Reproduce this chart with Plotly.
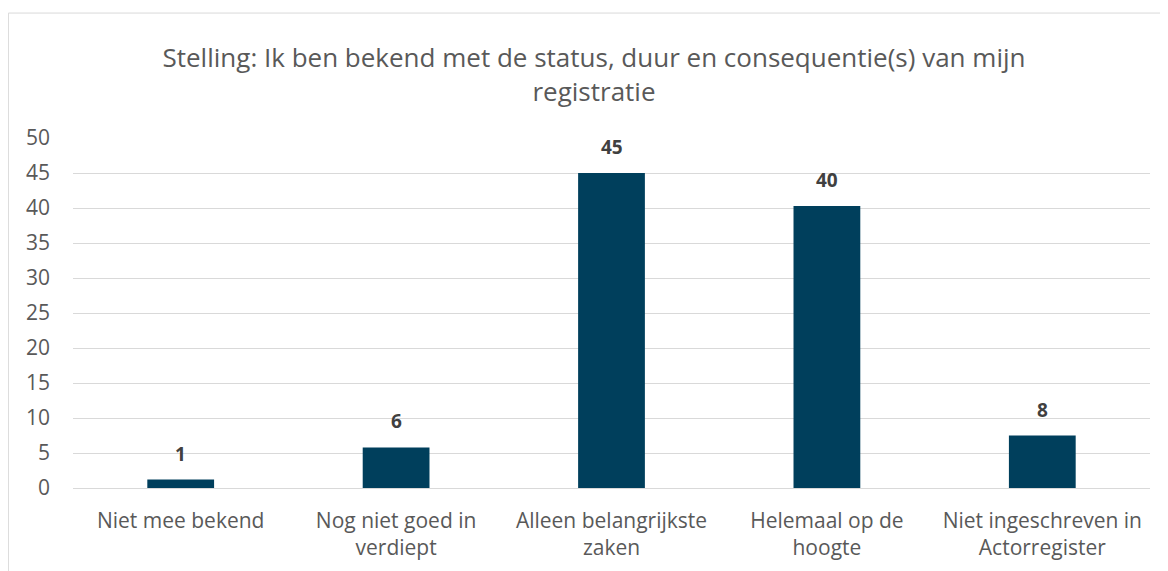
import plotly.graph_objects as go

categories = [
    "Niet mee bekend",
    "Nog niet goed in<br>verdiept",
    "Alleen belangrijkste<br>zaken",
    "Helemaal op de<br>hoogte",
    "Niet ingeschreven in<br>Actorregister",
]
values = [1.2, 5.8, 45.0, 40.3, 7.5]
labels = ["1", "6", "45", "40", "8"]
y_ticks = [0, 5, 10, 15, 20, 25, 30, 35, 40, 45, 50]

font_family = "Open Sans"
bar_color = "#003F5C"

fig = go.Figure()

fig.add_trace(
    go.Bar(
        x=categories,
        y=values,
        marker=dict(color=bar_color, line=dict(width=0)),
        hoverinfo="skip",
    )
)

# data labels sit a little higher than plotly's own "outside" text
for cat, val, lab in zip(categories, values, labels):
    fig.add_annotation(
        x=cat,
        y=val,
        text=f"<b>{lab}</b>",
        showarrow=False,
        yanchor="bottom",
        yshift=11,
        font=dict(family=font_family, size=19, color="#404040"),
    )

fig.update_layout(
    width=1168,
    height=571,
    margin=dict(l=65, r=26, t=130, b=91),
    paper_bgcolor="white",
    plot_bgcolor="white",
    bargap=0.69,
    showlegend=False,
    title=dict(
        text="Stelling: Ik ben bekend met de status, duur en consequentie(s) van mijn<br>registratie",
        x=0.5017,
        xanchor="center",
        y=0.896,
        yanchor="middle",
        font=dict(family=font_family, size=26, color="#595959"),
    ),
    font=dict(family=font_family, size=21, color="#595959"),
)

fig.update_xaxes(
    showgrid=False,
    showline=False,
    ticks="",
    ticklabelstandoff=18,
    tickfont=dict(size=21, color="#595959"),
)

fig.update_yaxes(
    range=[0, 50],
    tickvals=y_ticks,
    showgrid=True,
    gridcolor="#D9D9D9",
    gridwidth=1.3,
    zeroline=True,
    zerolinecolor="#D9D9D9",
    zerolinewidth=1.3,
    showline=False,
    ticks="",
    ticklabelstandoff=22,
    tickfont=dict(size=21, color="#595959"),
)

# chart area border (partly outside the captured region)
fig.add_shape(
    type="rect",
    xref="paper",
    yref="paper",
    x0=-0.0600,
    x1=1.2,
    y0=-0.5,
    y1=1.357,
    line=dict(color="#D9D9D9", width=1),
    fillcolor="rgba(0,0,0,0)",
    layer="below",
)

fig.write_html("out.html")
